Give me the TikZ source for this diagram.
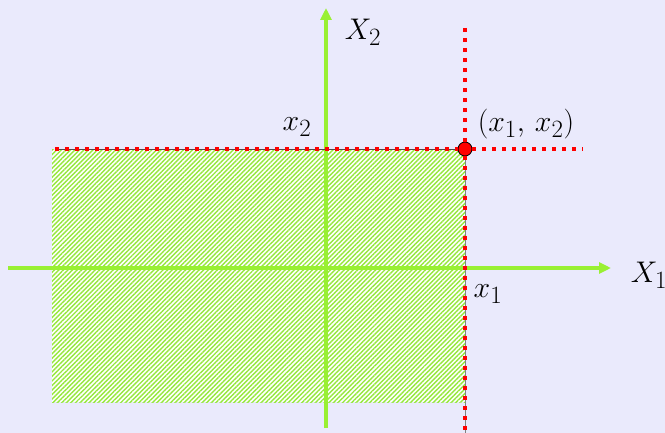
\documentclass[tikz,border=0pt]{standalone}
\usepackage{graphicx}
\usepackage{xcolor}
\usetikzlibrary{arrows.meta,positioning,calc,patterns.meta}

\definecolor{bgcol}{RGB}{234,234,252}
\definecolor{axgreen}{RGB}{153,240,51}
\definecolor{hatchgreen}{RGB}{150,232,60}
\newcommand{\lbtxt}[1]{\scalebox{1.2}{$#1$}}

\begin{document}
\begin{tikzpicture}[
    x=1pt, y=-1pt,
    axis/.style={draw=axgreen, line width=3.2pt, -{Triangle[length=12pt, width=11pt]}},
    redline/.style={draw=red, line width=4pt, dash pattern=on 4pt off 6pt},
    lbl/.style={font=\Huge, inner sep=0pt},
    hatch/.style={pattern={Lines[angle=45, distance=3.2pt, line width=1.4pt]}, pattern color=hatchgreen}
]
    \fill [bgcol] (0,0) rectangle (665,433);
    \useasboundingbox (0,0) rectangle (665,433);

    % region below (x1,x2)
    \fill [white] (52,150) rectangle (465,402);
    \fill [hatch] (52,150) rectangle (465,402);

    % axes
    \coordinate (h0) at (8,268);
    \coordinate (h1) at (611,268);
    \coordinate (v0) at (326,428);
    \coordinate (v1) at (326,8);
    \draw [axis] (h0) -- (h1);
    \draw [axis] (v0) -- (v1);

    % point and its bounds
    \node [circle, draw=black, fill=red, line width=0.8pt, minimum size=14pt, inner sep=0pt] (pt) at (465,149) {};
    \coordinate (top) at (465,28);
    \coordinate (bot) at (465,433);
    \coordinate (lft) at (55,149);
    \coordinate (rgt) at (583,149);
    \draw [black!70, line width=0.8pt] (lft) -- (pt.west);
    \draw [black!50, line width=0.8pt] (pt.south) -- (bot);
    \draw [redline] (top) -- (pt.north);
    \draw [redline] (pt.south) -- (bot);
    \draw [redline] (lft) -- (pt.west);
    \draw [redline] (pt.east) -- (rgt);

    % labels
    \node [lbl] (X2) at (363,32) {\lbtxt{X_2}};
    \node [lbl] (X1) at (649,275) {\lbtxt{X_1}};
    \node [lbl] (x2) at (297,127) {\lbtxt{x_2}};
    \node [lbl] (x1) at (488,294) {\lbtxt{x_1}};
    \node [lbl] (pl) at (526,124) {\lbtxt{(x_1,\, x_2)}};
\end{tikzpicture}
\end{document}
